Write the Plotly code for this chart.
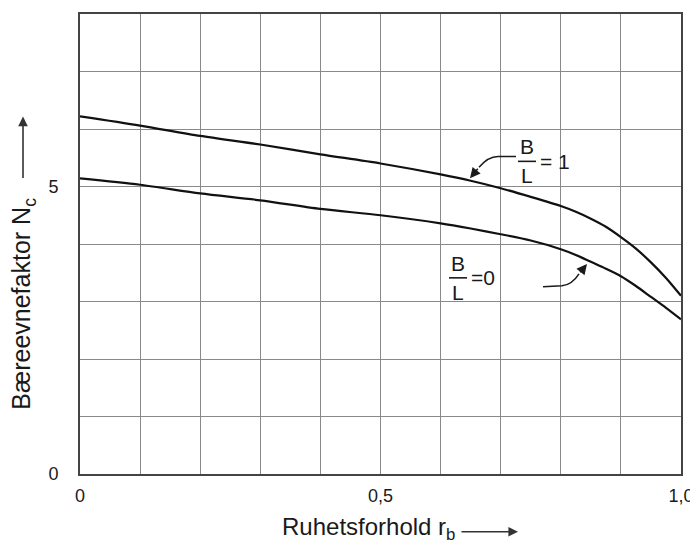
import plotly.graph_objects as go

# ---- data ----
r_values = [0.0, 0.1, 0.2, 0.3, 0.4, 0.5, 0.6, 0.65, 0.7, 0.75, 0.8, 0.825, 0.85, 0.875, 0.9, 0.925, 0.95, 0.975, 1.0]
nc_bl1 = [6.22, 6.06, 5.88, 5.73, 5.56, 5.40, 5.21, 5.10, 4.97, 4.82, 4.66, 4.56, 4.44, 4.30, 4.12, 3.92, 3.68, 3.41, 3.10]
nc_bl0 = [5.14, 5.03, 4.88, 4.76, 4.61, 4.50, 4.36, 4.27, 4.17, 4.06, 3.91, 3.81, 3.69, 3.57, 3.44, 3.27, 3.08, 2.89, 2.69]

x_tickvals = [0, 0.5, 1.0]
x_ticktext = ["0", "0,5", "1,0"]
y_tickvals = [0, 5]
y_ticktext = ["0", "5"]

OFF = 8  # default page body margin of the browser
W, H = 698 - OFF, 550 - OFF
L, R, T, B = 80 - OFF, 17, 12 - OFF, 76
PW, PH = W - L - R, H - T - B
XMAX, YMAX = 1.0, 8.0

FONT = "Liberation Sans, Arial, Helvetica, sans-serif"
TXT = "#1a1a1a"

# positions below are given in page pixels of the 698x550 view
PL, PT = L + OFF, T + OFF
PB = PT + PH


def dx(xp):  # page pixel -> data x
    return (xp - PL) / PW * XMAX


def dy(yp):  # page pixel -> data y
    return (PB - yp) / PH * YMAX


def px_(xp):  # page pixel -> paper x
    return (xp - PL) / PW


def py_(yp):  # page pixel -> paper y
    return (PB - yp) / PH


fig = go.Figure()
fig.add_trace(go.Scatter(x=r_values, y=nc_bl1, mode="lines",
                         line=dict(color="#111", width=2.2, shape="spline", smoothing=0.8),
                         name="B/L = 1", showlegend=False, hoverinfo="skip"))
fig.add_trace(go.Scatter(x=r_values, y=nc_bl0, mode="lines",
                         line=dict(color="#111", width=2.2, shape="spline", smoothing=0.8),
                         name="B/L = 0", showlegend=False, hoverinfo="skip"))

shapes = []
annotations = []


def fraction(cx, cy_bar, rhs, rhs_x, size=21):
    annotations.append(dict(x=dx(cx), y=dy(cy_bar - 1), xref="x", yref="y", text="B", showarrow=False,
                            xanchor="center", yanchor="bottom", font=dict(size=size, family=FONT, color=TXT)))
    annotations.append(dict(x=dx(cx), y=dy(cy_bar + 1), xref="x", yref="y", text="L", showarrow=False,
                            xanchor="center", yanchor="top", font=dict(size=size, family=FONT, color=TXT)))
    shapes.append(dict(type="line", xref="x", yref="y", x0=dx(cx - 9), x1=dx(cx + 9), y0=dy(cy_bar), y1=dy(cy_bar),
                       line=dict(color=TXT, width=1.6)))
    annotations.append(dict(x=dx(rhs_x), y=dy(cy_bar), xref="x", yref="y", text=rhs, showarrow=False,
                            xanchor="left", yanchor="middle", font=dict(size=size, family=FONT, color=TXT)))


fraction(527, 160, "= 1", 538)
fraction(458, 277, "=0", 469)


def leader(p0, p1, ctrl, p2, tip):
    shapes.append(dict(type="path", xref="x", yref="y",
                       path=f"M {dx(p0[0])},{dy(p0[1])} L {dx(p1[0])},{dy(p1[1])} "
                            f"Q {dx(ctrl[0])},{dy(ctrl[1])} {dx(p2[0])},{dy(p2[1])}",
                       line=dict(color=TXT, width=1.5)))
    annotations.append(dict(x=dx(tip[0]), y=dy(tip[1]), ax=dx(p2[0]), ay=dy(p2[1]), xref="x", yref="y",
                            axref="x", ayref="y", text="", showarrow=True, arrowhead=2, arrowsize=1.3,
                            arrowwidth=1.6, arrowcolor=TXT, standoff=0, startstandoff=0))


leader((516, 155), (498, 155), (488, 155), (479, 166), (470, 177))
leader((543, 286), (562, 285), (572, 284), (579, 273), (587, 263))

# axis titles with arrows
annotations.append(dict(x=px_(23), y=py_(303), xref="paper", yref="paper", text="Bæreevnefaktor N<sub>c</sub>",
                        textangle=-90, showarrow=False, xanchor="center", yanchor="middle",
                        font=dict(size=25, family=FONT, color=TXT)))
annotations.append(dict(x=px_(23), y=py_(115), xref="paper", yref="paper", ax=0, ay=63, text="",
                        showarrow=True, arrowhead=2, arrowsize=1.2, arrowwidth=1.6, arrowcolor="#333"))
annotations.append(dict(x=px_(368), y=py_(529), xref="paper", yref="paper", text="Ruhetsforhold r<sub>b</sub>",
                        showarrow=False, xanchor="center", yanchor="middle",
                        font=dict(size=24, family=FONT, color=TXT)))
annotations.append(dict(x=px_(518), y=py_(532), xref="paper", yref="paper", ax=-58, ay=0, text="",
                        showarrow=True, arrowhead=2, arrowsize=1.2, arrowwidth=1.6, arrowcolor="#333"))

fig.update_layout(
    width=W, height=H,
    margin=dict(l=L, r=R, t=T, b=B),
    paper_bgcolor="white", plot_bgcolor="white",
    font=dict(family=FONT, color=TXT, size=18),
    shapes=shapes, annotations=annotations,
)
fig.update_xaxes(range=[0, XMAX], tickvals=x_tickvals, ticktext=x_ticktext, showgrid=False, zeroline=False,
                 showline=True, mirror=True, linecolor="#444", linewidth=2, ticks="", ticklabelstandoff=4,
                 minor=dict(dtick=0.1, showgrid=True, gridcolor="#8a8a8a", gridwidth=1), fixedrange=True)
fig.update_yaxes(range=[0, YMAX], tickvals=y_tickvals, ticktext=y_ticktext, showgrid=False, zeroline=False,
                 showline=True, mirror=True, linecolor="#444", linewidth=2, ticks="", ticklabelstandoff=16,
                 minor=dict(dtick=1, showgrid=True, gridcolor="#8a8a8a", gridwidth=1), fixedrange=True)

fig.write_html("out.html")
